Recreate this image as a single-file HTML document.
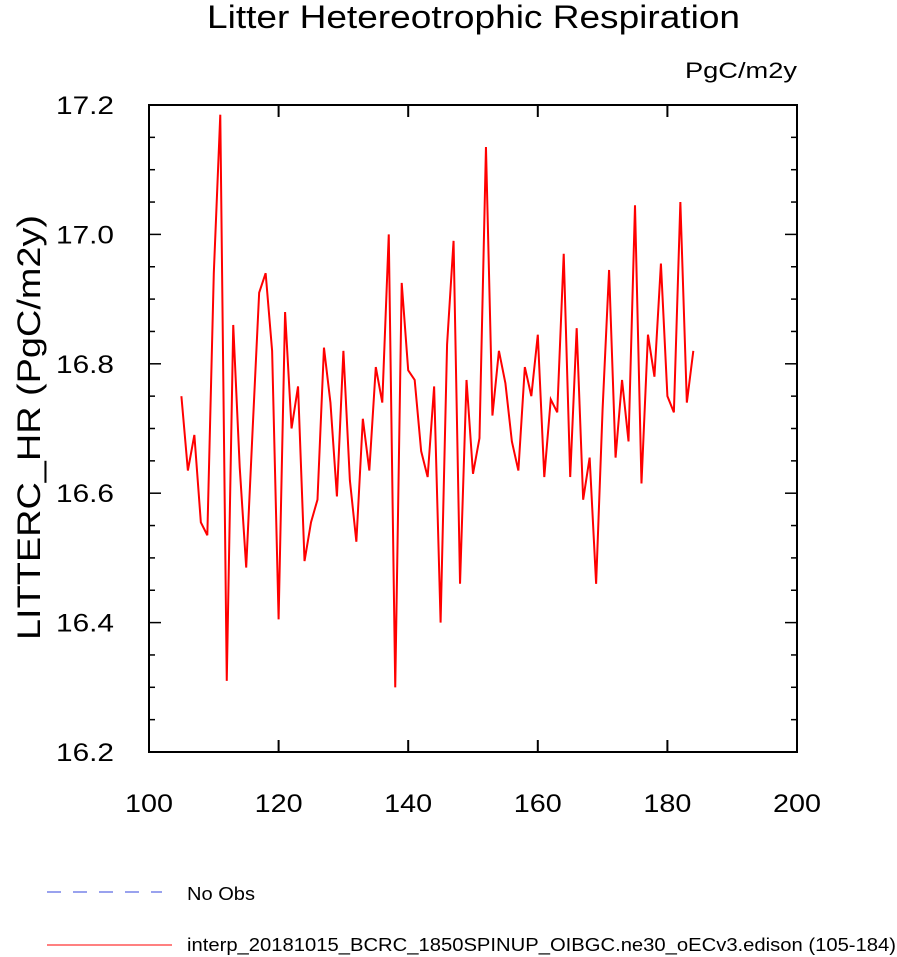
<!DOCTYPE html>
<html><head><meta charset="utf-8"><style>
body{margin:0;background:#fff;}
svg{display:block;font-family:"Liberation Sans",sans-serif;}
</style></head><body>
<svg id="chart" width="897" height="957">
<text x="207" y="28" font-size="32" textLength="533" lengthAdjust="spacingAndGlyphs">Litter Hetereotrophic Respiration</text>
<text x="685" y="78" font-size="22" textLength="112" lengthAdjust="spacingAndGlyphs">PgC/m2y</text>
<text transform="translate(40,640) rotate(-90)" font-size="32" textLength="425" lengthAdjust="spacingAndGlyphs">LITTERC_HR  (PgC/m2y)</text>
<g id="axes"></g>
<g id="series"></g>
<g>
<line x1="47" y1="892" x2="162" y2="892" stroke="#3344dd" stroke-width="1" stroke-dasharray="14,12"/>
<text x="187" y="900" font-size="18" textLength="68" lengthAdjust="spacingAndGlyphs">No Obs</text>
<line x1="47" y1="945" x2="172" y2="945" stroke="#ff0000" stroke-width="1"/>
<text x="187" y="951" font-size="18" textLength="709" lengthAdjust="spacingAndGlyphs">interp_20181015_BCRC_1850SPINUP_OIBGC.ne30_oECv3.edison (105-184)</text>
</g>
</svg>
<script>
const xTicks=[100,120,140,160,180,200];
const yTicks=[16.2,16.4,16.6,16.8,17.0,17.2];
const yTickLabels=["16.2","16.4","16.6","16.8","17.0","17.2"];
const startYear=105;
const values=[16.75,16.635,16.69,16.555,16.535,16.94,17.185,16.31,16.86,16.64,16.485,16.70,16.91,16.94,16.82,16.405,16.88,16.70,16.765,16.495,16.555,16.59,16.825,16.74,16.595,16.82,16.62,16.525,16.715,16.635,16.795,16.74,17.0,16.30,16.925,16.79,16.775,16.665,16.625,16.765,16.40,16.83,16.99,16.46,16.775,16.63,16.685,17.135,16.72,16.82,16.77,16.68,16.635,16.795,16.75,16.845,16.625,16.745,16.725,16.97,16.625,16.855,16.59,16.655,16.46,16.73,16.945,16.655,16.775,16.68,17.045,16.615,16.845,16.78,16.955,16.75,16.725,17.05,16.74,16.82];
const L=149,R=797,T=105,B=752;
const X0=100,X1=200,Y0=16.2,Y1=17.2;
const sx=v=>L+(v-X0)/(X1-X0)*(R-L);
const sy=v=>B-(v-Y0)/(Y1-Y0)*(B-T);
const NS="http://www.w3.org/2000/svg";
const ax=document.getElementById('axes');
function mk(tag,attrs,parent){const e=document.createElementNS(NS,tag);for(const k in attrs)e.setAttribute(k,attrs[k]);parent.appendChild(e);return e;}
const frame=mk('rect',{x:L,y:T,width:R-L,height:B-T,fill:'none',stroke:'#000','stroke-width':2},ax);


xTicks.forEach(t=>{
  const x=sx(t);
  const l1=mk('line',{x1:x,y1:B,x2:x,y2:B-12,stroke:'#000','stroke-width':2},ax);
  
  
  const l2=mk('line',{x1:x,y1:T,x2:x,y2:T+12,stroke:'#000','stroke-width':2},ax);
  
  
  const tx=mk('text',{x:x,y:B+60,'font-size':25,'text-anchor':'middle',textLength:48,lengthAdjust:'spacingAndGlyphs'},ax);
  tx.textContent=String(t);
  
  
});
for(let v=Y0;v<=Y1+1e-9;v+=0.05){
  const y=sy(v);
  const major=Math.abs(Math.round(v*5)-v*5)<1e-6;
  const len=major?12:6;
  const a=mk('line',{x1:L,y1:y,x2:L+len,y2:y,stroke:'#000','stroke-width':1.5},ax);
  
  
  const b=mk('line',{x1:R,y1:y,x2:R-len,y2:y,stroke:'#000','stroke-width':1.5},ax);
  
  
}
yTicks.forEach((t,i)=>{
  const tx=mk('text',{x:56,y:sy(t)+9,'font-size':25,textLength:58,lengthAdjust:'spacingAndGlyphs'},ax);
  tx.textContent=yTickLabels[i];
  
  
});
const pts=values.map((v,i)=>sx(startYear+i).toFixed(2)+','+sy(v).toFixed(2)).join(' ');
const line=mk('polyline',{points:pts,fill:'none',stroke:'#ff0000','stroke-width':2,'stroke-linejoin':'miter'},document.getElementById('series'));


</script>
</body></html>
